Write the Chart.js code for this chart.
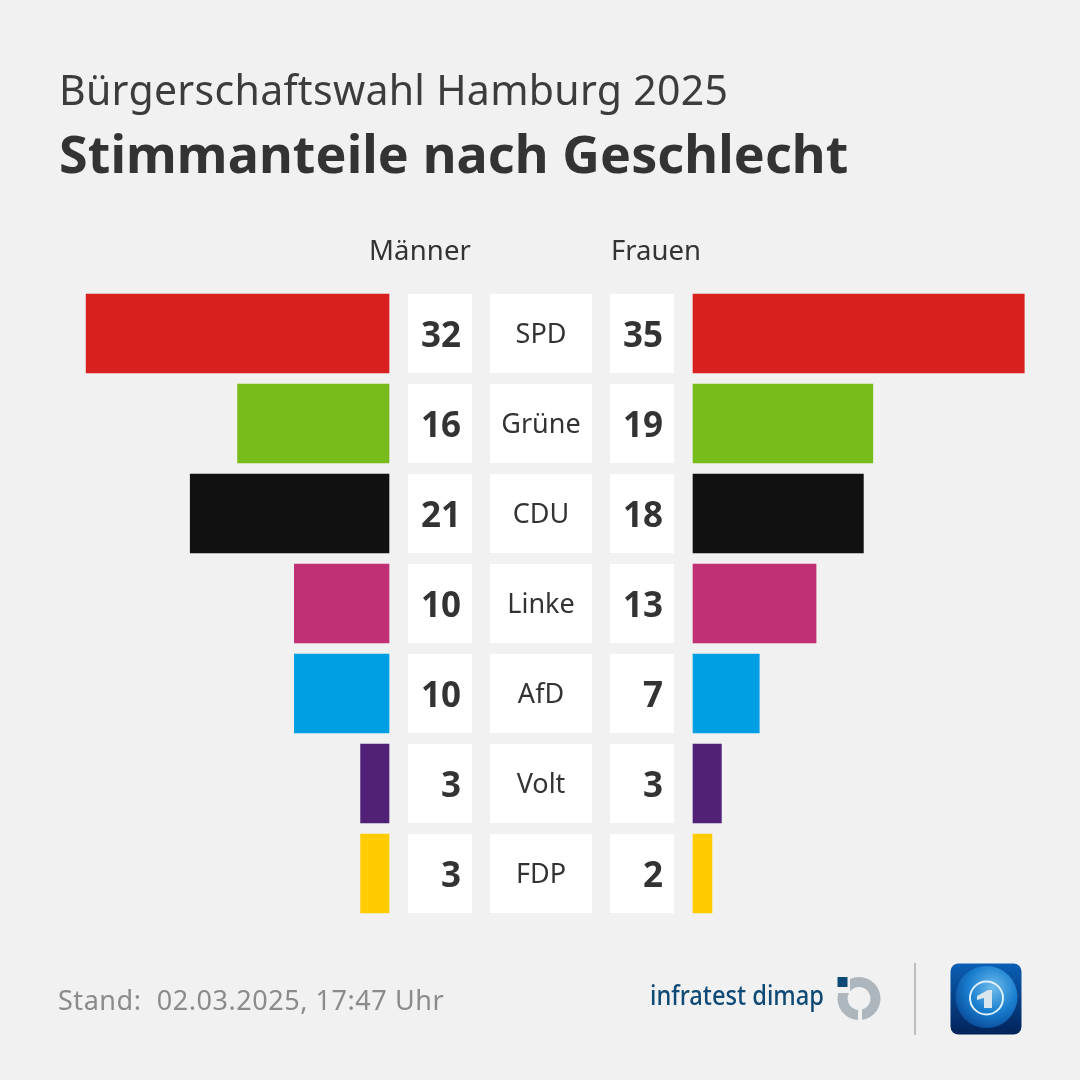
<!DOCTYPE html>
<html lang="de">
<head>
<meta charset="utf-8">
<title>Stimmanteile nach Geschlecht</title>
<script src="https://cdn.jsdelivr.net/npm/chart.js@4"></script>
<style>
html, body { margin: 0; padding: 0; background: #f1f1f1; }
#wrap { position: relative; width: 1080px; height: 1080px; overflow: hidden; font-family: "Noto Sans", sans-serif; color: #333; }
#wrap canvas { position: absolute; left: 0; top: 0; }
.txt { position: absolute; white-space: nowrap; line-height: 1; }
#sub { left: 59px; top: 69px; font-size: 41px; letter-spacing: 0.3px; color: #3c3c3c; }
#head { left: 59px; top: 127px; font-size: 52px; font-weight: 700; letter-spacing: 0.1px; }
#men { left: 369px; top: 236px; font-size: 27.500px; letter-spacing: 0.15px; }
#women { left: 611px; top: 236px; font-size: 27.500px; }
#stand { left: 58px; top: 986px; font-size: 27px; letter-spacing: 0.55px; color: #8b8b8b; white-space: pre; }
#logos { position: absolute; left: 630px; top: 950px; }
</style>
</head>
<body>
<div id="wrap">
    <canvas id="chart" width="1080" height="1080"></canvas>
    <div class="txt" id="sub">Bürgerschaftswahl Hamburg 2025</div>
    <div class="txt" id="head">Stimmanteile nach Geschlecht</div>
    <div class="txt" id="men">Männer</div>
    <div class="txt" id="women">Frauen</div>
    <div class="txt" id="stand">Stand:  02.03.2025, 17:47 Uhr</div>
    <svg id="logos" width="420" height="100" viewBox="0 0 420 100">
        <defs>
            <linearGradient id="tile" x1="0" y1="0" x2="0" y2="1">
                <stop offset="0" stop-color="#0a5fb4"/>
                <stop offset="1" stop-color="#03235a"/>
            </linearGradient>
            <radialGradient id="globe" cx="0.6" cy="0.35" r="0.7">
                <stop offset="0" stop-color="#6fbcea"/>
                <stop offset="0.55" stop-color="#1a7fd0"/>
                <stop offset="1" stop-color="#0a4c9a"/>
            </radialGradient>
        </defs>
        <text x="20" y="55" font-family="Noto Sans" font-size="27" font-weight="500" fill="#0f4a76" textLength="174" lengthAdjust="spacingAndGlyphs">infratest dimap</text>
        <rect x="207.500" y="27" width="10" height="10" fill="#0f4a76"/>
        <path d="M 220 29 A 21.500 21.500 0 1 1 232 69.800 L 232 59.600 A 11.500 11.500 0 1 0 220 41.300 Z" fill="#adb6bc"/>
        <path d="M 208.200 43 L 219 43 A 11.500 11.500 0 0 0 228 60 L 228 70 A 21.500 21.500 0 0 1 208.200 43 Z" fill="#adb6bc"/>
        <rect x="284" y="13" width="2" height="72" fill="#bdbdbd"/>
        <rect x="320.500" y="13.500" width="71" height="71" rx="8" fill="url(#tile)"/>
        <circle cx="356.500" cy="47" r="31" fill="url(#globe)"/>
        <circle cx="356.500" cy="48" r="16.500" fill="none" stroke="#dff0fa" stroke-width="2"/>
        <path d="M 347 46 L 358 40 L 362 40 L 362 58 L 354 58 L 354 48 L 347 50 Z" fill="#d9e6ee"/>
    </svg>
</div>
<script>
const parties = ['SPD', 'Grüne', 'CDU', 'Linke', 'AfD', 'Volt', 'FDP'];
const men = [32, 16, 21, 10, 10, 3, 3];
const women = [35, 19, 18, 13, 7, 3, 2];
const partyColors = ['#d8201f', '#78bc1b', '#111111', '#bf3074', '#009fe3', '#512178', '#ffcc00'];

// px per percentage point and where the two zero lines sit on the canvas
const PX_PER_UNIT = 9.465;
const MEN_ZERO = 389;
const WOMEN_ZERO = 693;

// white cells between the bars: [left, right]
const menCell = [408, 472];
const partyCell = [490, 592];
const womenCell = [610, 674];
const CELL_HEIGHT = 79;

const cellsPlugin = {
    id: 'cells',
    beforeDatasetsDraw(chart) {
        const ctx = chart.ctx;
        const y = chart.scales.y;
        parties.forEach((party, i) => {
            const mid = y.getPixelForValue(i);
            const top = mid - CELL_HEIGHT / 2;
            ctx.fillStyle = '#ffffff';
            [menCell, partyCell, womenCell].forEach(c => {
                ctx.fillRect(c[0], top, c[1] - c[0], CELL_HEIGHT);
            });
            ctx.fillStyle = '#333333';
            ctx.textBaseline = 'middle';
            ctx.textAlign = 'center';
            ctx.font = '27px "Noto Sans"';
            ctx.fillText(party, (partyCell[0] + partyCell[1]) / 2, mid + 2);
            ctx.textAlign = 'right';
            ctx.font = 'bold 35px "Noto Sans"';
            ctx.fillText(men[i], menCell[1] - 11, mid + 4);
            ctx.fillText(women[i], womenCell[1] - 11, mid + 4);
        });
    }
};

new Chart(document.getElementById('chart'), {
    type: 'bar',
    data: {
        labels: parties,
        datasets: [
            { label: 'Männer', data: men, xAxisID: 'xMen', backgroundColor: partyColors, grouped: false, barThickness: CELL_HEIGHT },
            { label: 'Frauen', data: women, xAxisID: 'xWomen', backgroundColor: partyColors, grouped: false, barThickness: CELL_HEIGHT }
        ]
    },
    options: {
        indexAxis: 'y',
        responsive: false,
        animation: false,
        devicePixelRatio: 1,
        layout: { padding: { top: 288.5, bottom: 161.5, left: 0, right: 0 } },
        plugins: { legend: { display: false }, tooltip: { enabled: false } },
        scales: {
            y: { display: false },
            xMen: {
                display: false,
                reverse: true,
                min: -(1080 - MEN_ZERO) / PX_PER_UNIT,
                max: MEN_ZERO / PX_PER_UNIT
            },
            xWomen: {
                display: false,
                min: -WOMEN_ZERO / PX_PER_UNIT,
                max: (1080 - WOMEN_ZERO) / PX_PER_UNIT
            }
        }
    },
    plugins: [cellsPlugin]
});
</script>
</body>
</html>
